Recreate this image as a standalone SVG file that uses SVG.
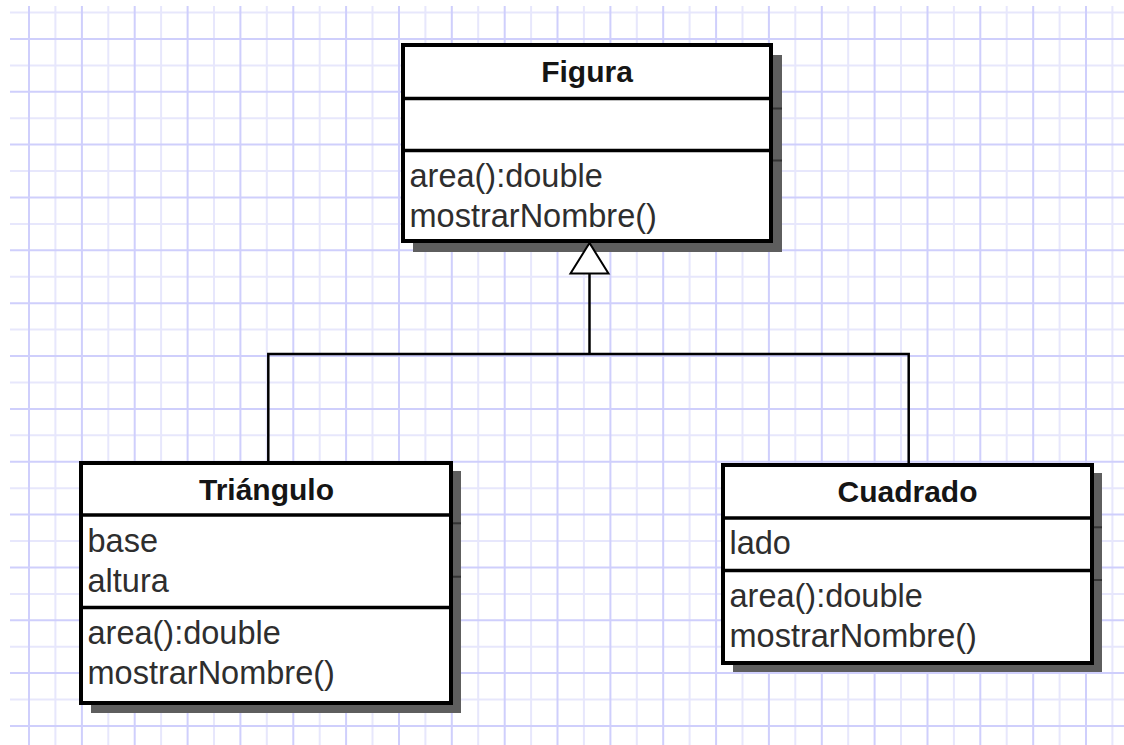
<svg xmlns="http://www.w3.org/2000/svg" width="1124" height="745" viewBox="0 0 1124 745">
  <style>
    .bg { fill: #ffffff; }
    .gs { stroke: #cfcffc; stroke-width: 2; fill: none; }
    .gl { stroke: #e7e7fc; stroke-width: 2; fill: none; }
    .shadow { fill: #5e5e5e; }
    .stick { stroke: #333333; stroke-width: 2; }
    .box { fill: #ffffff; stroke: #000000; stroke-width: 4; }
    .sep { stroke: #000000; stroke-width: 3.5; }
    .title { font-family: "Liberation Sans", Arial, sans-serif; font-size: 30px; font-weight: bold; fill: #151515; text-anchor: middle; }
    .member { font-family: "Liberation Sans", Arial, sans-serif; font-size: 32.5px; fill: #2e2e2e; }
    .conn { stroke: #000000; stroke-width: 2.5; fill: none; }
    .tri { stroke: #000000; stroke-width: 2; fill: #ffffff; stroke-linejoin: miter; }
  </style>
  <rect class="bg" x="0" y="0" width="1124" height="745"/>
  <g id="grid">
    <path class="gl" d="M10 12.5H1124M10 65.4H1124M10 118.2H1124M10 171.1H1124M10 223.9H1124M10 276.8H1124M10 329.6H1124M10 382.5H1124M10 435.3H1124M10 488.2H1124M10 541H1124M10 593.9H1124M10 646.7H1124M10 699.6H1124"/>
    <path class="gl" d="M55.4 6V745M108.3 6V745M161.1 6V745M214 6V745M266.8 6V745M319.7 6V745M372.5 6V745M425.4 6V745M478.2 6V745M531.1 6V745M583.9 6V745M636.8 6V745M689.6 6V745M742.5 6V745M795.3 6V745M848.2 6V745M901 6V745M953.9 6V745M1006.7 6V745M1059.6 6V745M1112.4 6V745"/>
    <path class="gs" d="M10 38.9H1124M10 91.8H1124M10 144.6H1124M10 197.5H1124M10 250.3H1124M10 303.2H1124M10 356H1124M10 408.9H1124M10 461.7H1124M10 514.6H1124M10 567.4H1124M10 620.3H1124M10 673.1H1124M10 726H1124"/>
    <path class="gs" d="M29 6V745M81.9 6V745M134.7 6V745M187.6 6V745M240.4 6V745M293.3 6V745M346.1 6V745M399 6V745M451.8 6V745M504.7 6V745M557.5 6V745M610.4 6V745M663.2 6V745M716.1 6V745M768.9 6V745M821.8 6V745M874.6 6V745M927.5 6V745M980.3 6V745M1033.2 6V745M1086 6V745"/>
  </g>
  <g id="figura">
    <rect class="shadow" x="413" y="55" width="369" height="197"/>
    <line class="stick" x1="770" y1="108.5" x2="782" y2="108.5"/>
    <line class="stick" x1="770" y1="160.5" x2="782" y2="160.5"/>
    <rect class="box" x="403" y="45" width="368" height="196"/>
    <line class="sep" x1="403" y1="98.5" x2="771" y2="98.5"/>
    <line class="sep" x1="403" y1="150.5" x2="771" y2="150.5"/>
    <text class="title" x="587" y="82">Figura</text>
    <text class="member" x="409.5" y="186.5">area():double</text>
    <text class="member" x="409.5" y="226.5">mostrarNombre()</text>
  </g>
  <g id="triangulo">
    <rect class="shadow" x="91" y="471" width="370" height="242"/>
    <line class="stick" x1="450" y1="523.3" x2="461" y2="523.3"/>
    <line class="stick" x1="450" y1="576.7" x2="461" y2="576.7"/>
    <rect class="box" x="81" y="463" width="370" height="240"/>
    <line class="sep" x1="81" y1="515" x2="451" y2="515"/>
    <line class="sep" x1="81" y1="607.5" x2="451" y2="607.5"/>
    <text class="title" x="266.5" y="500">Triángulo</text>
    <text class="member" x="87.5" y="551.5">base</text>
    <text class="member" x="87.5" y="591.5">altura</text>
    <text class="member" x="87.5" y="644">area():double</text>
    <text class="member" x="87.5" y="683.5">mostrarNombre()</text>
  </g>
  <g id="cuadrado">
    <rect class="shadow" x="733" y="473" width="369" height="199"/>
    <line class="stick" x1="1091" y1="527.3" x2="1102" y2="527.3"/>
    <line class="stick" x1="1091" y1="580" x2="1102" y2="580"/>
    <rect class="box" x="723" y="465" width="369" height="198"/>
    <line class="sep" x1="723" y1="518" x2="1092" y2="518"/>
    <line class="sep" x1="723" y1="570.5" x2="1092" y2="570.5"/>
    <text class="title" x="907.5" y="501.5">Cuadrado</text>
    <text class="member" x="729.5" y="554">lado</text>
    <text class="member" x="729.5" y="606.5">area():double</text>
    <text class="member" x="729.5" y="646.5">mostrarNombre()</text>
  </g>
  <g id="connectors">
    <path class="conn" d="M268.3 461V354H908.7V463"/>
    <path class="conn" d="M589.5 273.5V354"/>
    <polygon class="tri" points="589.5,243 570.5,273.5 608.5,273.5"/>
  </g>
</svg>
